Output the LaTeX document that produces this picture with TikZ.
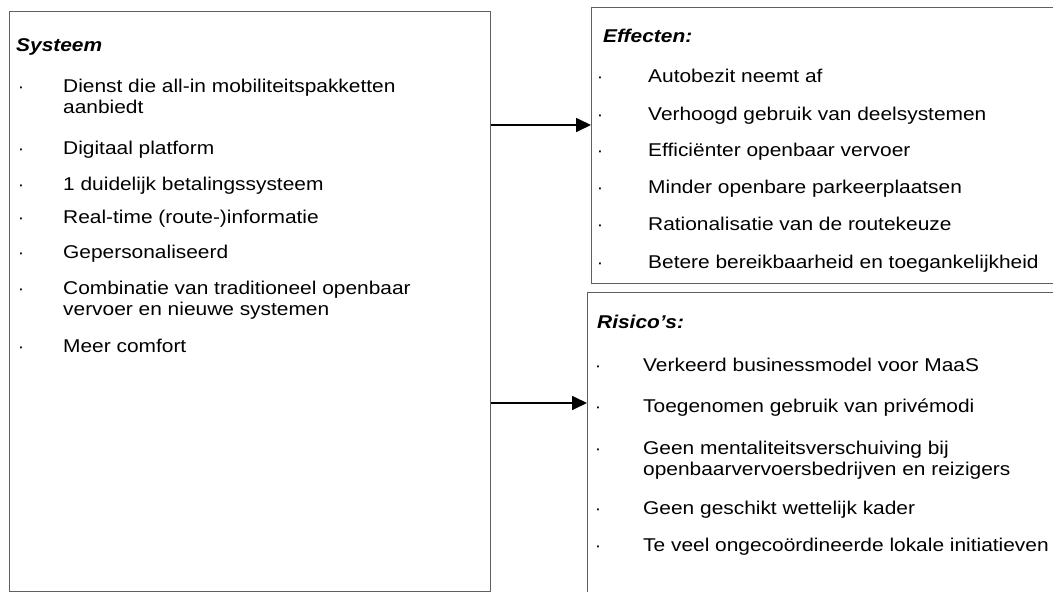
\documentclass[tikz,border=0pt]{standalone}
\usepackage{fontspec}
\setmainfont{Liberation Sans}[FakeStretch=1.13]
\usetikzlibrary{arrows.meta}
\definecolor{boxgray}{HTML}{606060}
\begin{document}
\begin{tikzpicture}[x=1pt,y=-1pt,
  box/.style={draw=boxgray, line width=1.1pt, inner sep=0pt, anchor=north west},
  txt/.style={anchor=base west, inner sep=0pt, font=\fontsize{18.5}{21}\selectfont},
  head/.style={anchor=base west, inner sep=0pt, font=\fontsize{18.5}{21}\selectfont\bfseries\itshape},
  bul/.style={anchor=base, inner sep=0pt, font=\fontsize{17}{17}\selectfont},
  arr/.style={-{Triangle[length=15pt,width=14pt]}, line width=1.7pt}]
\useasboundingbox (0,0) rectangle (1053,592);
\fill[white] (0,0) rectangle (1053,592);

% boxes
\node[box, minimum width=481.5pt, minimum height=580pt] (sys) at (8.5,11) {};
\node[box, minimum width=480pt, minimum height=276pt] (eff) at (591,7) {};
\node[box, minimum width=480pt, minimum height=320pt] (ris) at (587,292) {};

% left box
\node[head] (sysh) at (16,51) {Systeem};
\node[bul] (b1) at (21,92) {·};
\node[txt] (s1a) at (63,92) {Dienst die all-in mobiliteitspakketten};
\node[txt] (s1b) at (63,113) {aanbiedt};
\node[bul] (b2) at (21,154) {·};
\node[txt] (s2) at (63,154) {Digitaal platform};
\node[bul] (b3) at (21,190) {·};
\node[txt] (s3) at (63,190) {1 duidelijk betalingssysteem};
\node[bul] (b4) at (21,223) {·};
\node[txt] (s4) at (63,223) {Real-time (route-)informatie};
\node[bul] (b5) at (21,258) {·};
\node[txt] (s5) at (63,258) {Gepersonaliseerd};
\node[bul] (b6) at (21,294) {·};
\node[txt] (s6a) at (63,294) {Combinatie van traditioneel openbaar};
\node[txt] (s6b) at (63,315) {vervoer en nieuwe systemen};
\node[bul] (b7) at (21,352) {·};
\node[txt] (s7) at (63,352) {Meer comfort};

% effects
\node[head] (effh) at (603,42) {Effecten:};
\node[bul] (e1b) at (600,82) {·};
\node[txt] (e1) at (648,82) {Autobezit neemt af};
\node[bul] (e2b) at (600,120) {·};
\node[txt] (e2) at (648,120) {Verhoogd gebruik van deelsystemen};
\node[bul] (e3b) at (600,156) {·};
\node[txt] (e3) at (648,156) {Efficiënter openbaar vervoer};
\node[bul] (e4b) at (600,193) {·};
\node[txt] (e4) at (648,193) {Minder openbare parkeerplaatsen};
\node[bul] (e5b) at (600,230) {·};
\node[txt] (e5) at (648,230) {Rationalisatie van de routekeuze};
\node[bul] (e6b) at (600,268) {·};
\node[txt] (e6) at (648,268) {Betere bereikbaarheid en toegankelijkheid};

% risks
\node[head] (rish) at (597,328) {Risico’s:};
\node[bul] (r1b) at (598,371) {·};
\node[txt] (r1) at (643,371) {Verkeerd businessmodel voor MaaS};
\node[bul] (r2b) at (598,412) {·};
\node[txt] (r2) at (643,412) {Toegenomen gebruik van privémodi};
\node[bul] (r3b) at (598,454) {·};
\node[txt] (r3a) at (643,454) {Geen mentaliteitsverschuiving bij};
\node[txt] (r3b) at (643,475) {openbaarvervoersbedrijven en reizigers};
\node[bul] (r4b) at (598,514) {·};
\node[txt] (r4) at (643,514) {Geen geschikt wettelijk kader};
\node[bul] (r5b) at (598,551) {·};
\node[txt] (r5) at (643,551) {Te veel ongecoördineerde lokale initiatieven};

% arrows
\coordinate (a1) at (490.5,125);
\coordinate (a2) at (490.5,403);
\draw[arr] (a1) -- (a1 -| eff.west);
\draw[arr] (a2) -- (a2 -| ris.west);
\end{tikzpicture}
\end{document}
